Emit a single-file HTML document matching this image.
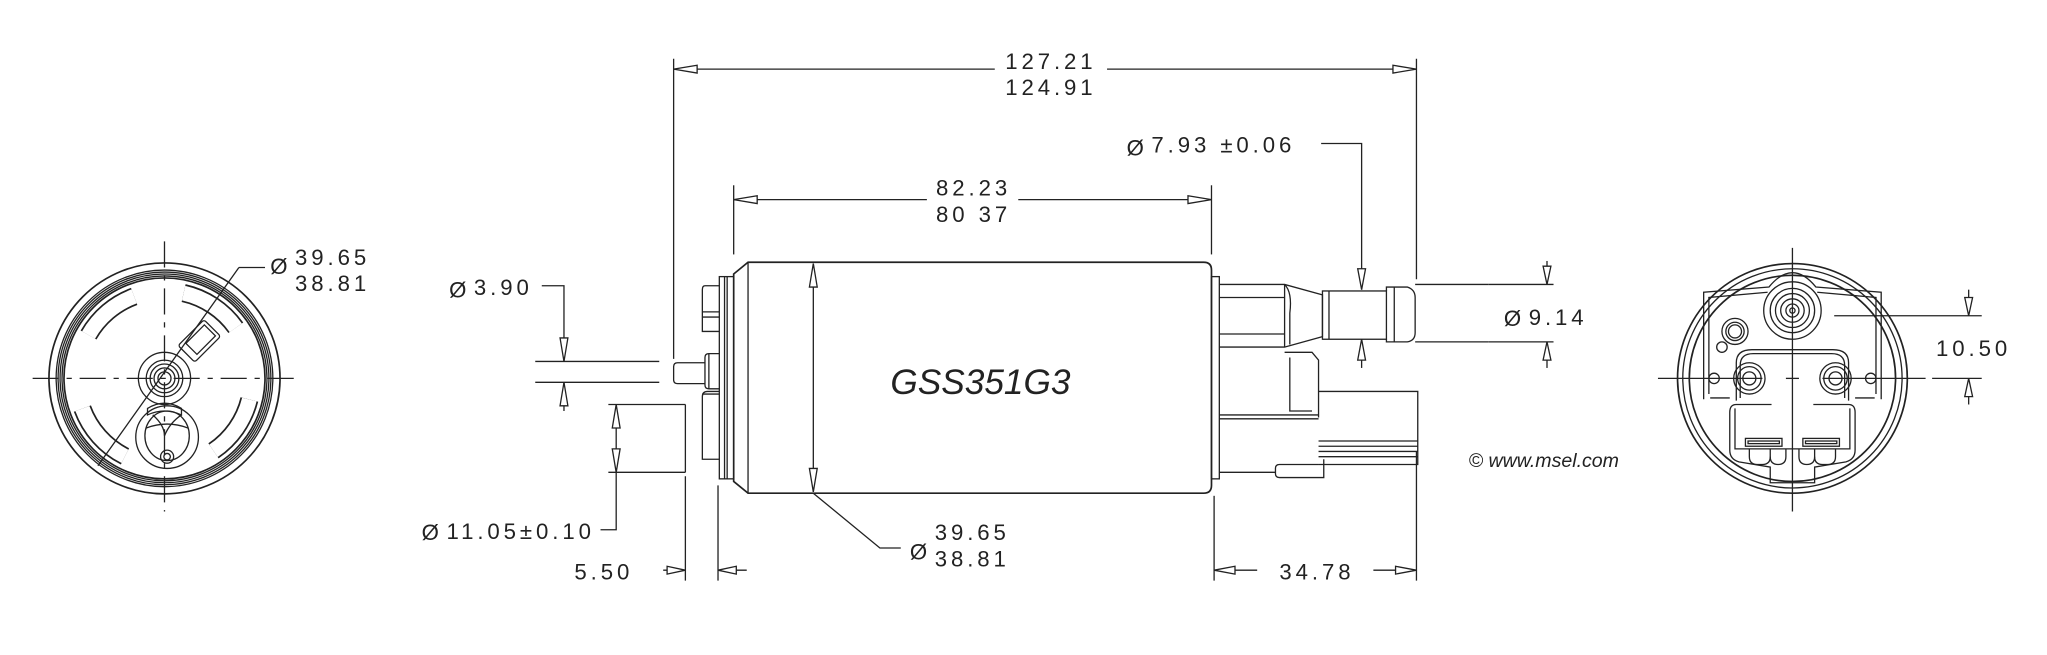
<!DOCTYPE html>
<html><head><meta charset="utf-8"><style>
html,body{margin:0;padding:0;background:#fff;}
svg{display:block;}
text{font-family:"Liberation Sans",sans-serif;fill:#222;}
.d{font-size:17px;letter-spacing:3px;font-weight:normal;}
</style></head><body>
<svg width="2047" height="655" viewBox="0 0 1568 502" preserveAspectRatio="none" xmlns="http://www.w3.org/2000/svg">
<g fill="none" stroke="#222" stroke-width="1">

<!-- ===== LEFT VIEW ===== -->
<g>
<line x1="25" y1="290" x2="228" y2="290" stroke-dasharray="20,6,4,6"/>
<line x1="126" y1="185" x2="126" y2="392" stroke-dasharray="20,6,4,6"/>
<circle cx="126" cy="290" r="88.5" stroke-width="1.3"/>
<circle cx="126" cy="290" r="83"/>
<circle cx="126" cy="290" r="81.5"/>
<circle cx="126" cy="290" r="80"/>
<circle cx="126" cy="290" r="78.5"/>
<circle cx="126" cy="290" r="77" stroke-width="1.3"/>
<!-- arc slots -->
<circle cx="126" cy="290" r="67" stroke-width="14" stroke-dasharray="42,61,43,50,40,33,42,49" stroke-dashoffset="-14" pathLength="360"/>
<circle cx="126" cy="290" r="67" stroke="#fff" stroke-width="11.4" stroke-dasharray="42,61,43,50,40,33,42,49" stroke-dashoffset="-14" pathLength="360"/>
<rect x="-13" y="-9" width="28" height="18" rx="2" transform="translate(152,262) rotate(-45)" fill="#fff"/>
<rect x="-9" y="-6" width="20" height="12" transform="translate(153,261) rotate(-45)"/>
<!-- hub -->
<circle cx="126" cy="290" r="20"/>
<circle cx="126" cy="290" r="14"/>
<circle cx="126" cy="290" r="11"/>
<circle cx="126" cy="290" r="8"/>
<circle cx="126" cy="290" r="5"/>
<path d="M113 313 Q126 305 139 313 L139 318 Q126 312 113 318 Z"/>
<circle cx="128" cy="335" r="24"/>
<ellipse cx="128" cy="334" rx="17" ry="19"/>
<path d="M112 328 Q128 322 144 328"/>
<path d="M117 318 Q126 326 126 334 Q130 324 139 318"/>
<circle cx="128" cy="350" r="5"/>
<circle cx="128" cy="350" r="2.5"/>
<line x1="75" y1="357" x2="183" y2="205"/>
<line x1="183" y1="205" x2="203" y2="205"/>
</g>

<!-- ===== MIDDLE ===== -->
<line x1="516" y1="45" x2="516" y2="275"/>
<line x1="1085" y1="45" x2="1085" y2="214"/>
<line x1="516" y1="53" x2="762" y2="53"/>
<line x1="848" y1="53" x2="1085" y2="53"/>
<polygon points="516,53 534,50 534,56" fill="#fff"/>
<polygon points="1085,53 1067,50 1067,56" fill="#fff"/>
<line x1="562" y1="142" x2="562" y2="195"/>
<line x1="928" y1="142" x2="928" y2="195"/>
<line x1="562" y1="153" x2="710" y2="153"/>
<line x1="780" y1="153" x2="928" y2="153"/>
<polygon points="562,153 580,150 580,156" fill="#fff"/>
<polygon points="928,153 910,150 910,156" fill="#fff"/>

<path d="M562 210 L573 201 L922 201 Q928 201 928 207 L928 372 Q928 378 922 378 L573 378 L562 369 Z" stroke-width="1.3"/>
<line x1="573" y1="201" x2="573" y2="378"/>
<rect x="551" y="212" width="11" height="155"/>
<line x1="555" y1="212" x2="555" y2="367"/>
<line x1="557" y1="212" x2="557" y2="367"/>
<path d="M551 219 L540 219 Q538 219 538 222 L538 254 L551 254"/>
<line x1="538" y1="239" x2="551" y2="239"/>
<line x1="538" y1="243" x2="551" y2="243"/>
<path d="M551 271 L543 271 Q540 271 540 274 L540 295 Q540 298 543 298 L551 298"/>
<line x1="543" y1="271" x2="543" y2="298"/>
<path d="M540 278 L519 278 Q516 278 516 281 L516 291 Q516 294 519 294 L540 294"/>
<path d="M551 300 L542 300 Q538 300 538 304 L538 352 L551 352"/>
<line x1="538" y1="302" x2="551" y2="302"/>
<line x1="623" y1="202" x2="623" y2="377"/>
<polygon points="623,202 620,220 626,220" fill="#fff"/>
<polygon points="623,377 620,359 626,359" fill="#fff"/>
<polyline points="623,378 674,420 690,420"/>

<rect x="928" y="212" width="6" height="155"/>
<path d="M934 218 L984 218 L1013 226 L1013 258 L984 266 L934 266"/>
<line x1="934" y1="228" x2="984" y2="228"/>
<line x1="934" y1="256" x2="984" y2="256"/>
<line x1="984" y1="218" x2="984" y2="266"/>
<path d="M984 218 Q990 224 988 240 L988 264"/>
<rect x="1013" y="223" width="49" height="37"/>
<line x1="1018" y1="223" x2="1018" y2="260"/>
<path d="M1062 223 L1062 220 L1078 220 Q1084 222 1084 228 L1084 255 Q1084 261 1078 262 L1062 262 L1062 260"/>
<line x1="1068" y1="220" x2="1068" y2="262"/>
<line x1="1084" y1="218" x2="1140" y2="218"/>
<line x1="1084" y1="262" x2="1140" y2="262"/>
<path d="M984 270 L1005 270 L1010 276 L1010 320"/>
<path d="M988 274 L988 315 L1005 315"/>
<line x1="934" y1="318" x2="1010" y2="318"/>
<line x1="934" y1="321" x2="1010" y2="321"/>
<path d="M1010 300 L1086 300 L1086 356 L1010 356"/>
<line x1="1010" y1="338" x2="1086" y2="338"/>
<line x1="1010" y1="342" x2="1086" y2="342"/>
<line x1="1010" y1="346" x2="1086" y2="346"/>
<line x1="1010" y1="350" x2="1086" y2="350"/>
<path d="M1010 356 L980 356 Q977 356 977 359 L977 363 Q977 366 980 366 L1014 366 L1014 352"/>
<line x1="934" y1="362" x2="977" y2="362"/>

<polyline points="415,219 432,219 432,277"/>
<polygon points="432,277 429,259 435,259" fill="#fff"/>
<line x1="410" y1="277" x2="505" y2="277"/>
<line x1="410" y1="293" x2="505" y2="293"/>
<line x1="432" y1="293" x2="432" y2="315"/>
<polygon points="432,293 429,311 435,311" fill="#fff"/>
<line x1="466" y1="310" x2="525" y2="310"/>
<line x1="466" y1="362" x2="525" y2="362"/>
<line x1="525" y1="310" x2="525" y2="362"/>
<polyline points="460,406 472,406 472,310"/>
<polygon points="472,310 469,328 475,328" fill="#fff"/>
<polygon points="472,362 469,344 475,344" fill="#fff"/>
<line x1="525" y1="365" x2="525" y2="445"/>
<line x1="550" y1="372" x2="550" y2="445"/>
<line x1="508" y1="437" x2="525" y2="437"/>
<polygon points="525,437 511,434 511,440" fill="#fff"/>
<line x1="550" y1="437" x2="572" y2="437"/>
<polygon points="550,437 564,434 564,440" fill="#fff"/>
<polyline points="1012,110 1043,110 1043,222"/>
<polygon points="1043,222 1040,206 1046,206" fill="#fff"/>
<line x1="1043" y1="260" x2="1043" y2="282"/>
<polygon points="1043,260 1040,276 1046,276" fill="#fff"/>
<line x1="1185" y1="200" x2="1185" y2="218"/>
<polygon points="1185,218 1182,204 1188,204" fill="#fff"/>
<line x1="1185" y1="262" x2="1185" y2="282"/>
<polygon points="1185,262 1182,276 1188,276" fill="#fff"/>
<line x1="1140" y1="218" x2="1190" y2="218"/>
<line x1="1140" y1="262" x2="1190" y2="262"/>
<line x1="930" y1="380" x2="930" y2="445"/>
<line x1="1085" y1="346" x2="1085" y2="445"/>
<line x1="930" y1="437" x2="963" y2="437"/>
<line x1="1052" y1="437" x2="1085" y2="437"/>
<polygon points="930,437 946,434 946,440" fill="#fff"/>
<polygon points="1085,437 1069,434 1069,440" fill="#fff"/>

<!-- ===== RIGHT VIEW ===== -->
<line x1="1270" y1="290" x2="1350" y2="290"/>
<line x1="1396" y1="290" x2="1475" y2="290"/>
<line x1="1373" y1="190" x2="1373" y2="392"/>
<circle cx="1373" cy="290" r="88" stroke-width="1.3"/>
<circle cx="1373" cy="290" r="84"/>
<circle cx="1373" cy="290" r="79" stroke-width="1.3"/>
<path d="M1305 306 L1305 224 L1355 220 Q1373 198 1391 220 L1441 224 L1441 306" />
<path d="M1309 302 L1309 228 L1354 224"/>
<path d="M1392 224 L1437 228 L1437 302"/>
<circle cx="1373" cy="238" r="22"/>
<circle cx="1373" cy="238" r="17"/>
<circle cx="1373" cy="238" r="13"/>
<circle cx="1373" cy="238" r="9"/>
<circle cx="1373" cy="238" r="5"/>
<circle cx="1373" cy="238" r="2"/>
<circle cx="1329" cy="254" r="10"/>
<circle cx="1329" cy="254" r="7"/>
<circle cx="1329" cy="254" r="5"/>
<circle cx="1319" cy="266" r="4"/>
<path d="M1330 307 L1330 278 Q1330 268 1342 268 L1404 268 Q1416 268 1416 278 L1416 307"/>
<path d="M1333 305 L1333 280 Q1333 271 1343 271 L1403 271 Q1413 271 1413 280 L1413 305"/>
<circle cx="1340" cy="290" r="12"/>
<circle cx="1340" cy="290" r="9"/>
<circle cx="1340" cy="290" r="5"/>
<circle cx="1406" cy="290" r="12"/>
<circle cx="1406" cy="290" r="9"/>
<circle cx="1406" cy="290" r="5"/>
<circle cx="1313" cy="290" r="4"/>
<circle cx="1433" cy="290" r="4"/>
<line x1="1368" y1="290" x2="1378" y2="290"/>
<path d="M1357 310 L1330 310 Q1325 310 1325 316 L1325 345 Q1325 352 1332 354 L1356 358 L1356 370 L1390 370 L1390 358 L1414 354 Q1421 352 1421 345 L1421 316 Q1421 310 1416 310 L1389 310"/>
<path d="M1329 313 L1329 344 L1417 344 L1417 313"/>
<rect x="1337" y="336" width="28" height="6"/>
<rect x="1339" y="338" width="24" height="2"/>
<rect x="1381" y="336" width="28" height="6"/>
<rect x="1383" y="338" width="24" height="2"/>
<path d="M1340 344 L1340 350 Q1340 356 1346 356 L1350 356 Q1356 356 1356 350 L1356 344"/>
<path d="M1356 350 Q1356 356 1362 356 Q1368 356 1368 350 L1368 344"/>
<path d="M1378 344 L1378 350 Q1378 356 1384 356 Q1390 356 1390 350"/>
<path d="M1390 344 L1390 350 Q1390 356 1396 356 L1400 356 Q1406 356 1406 350 L1406 344"/>
<line x1="1310" y1="305" x2="1325" y2="305"/>
<line x1="1421" y1="305" x2="1436" y2="305"/>
<line x1="1405" y1="242" x2="1518" y2="242"/>
<line x1="1480" y1="290" x2="1518" y2="290"/>
<line x1="1508" y1="222" x2="1508" y2="242"/>
<polygon points="1508,242 1505,228 1511,228" fill="#fff"/>
<line x1="1508" y1="290" x2="1508" y2="310"/>
<polygon points="1508,290 1505,304 1511,304" fill="#fff"/>
</g>

<g class="d">
<text x="207" y="210" class="d" font-size="22">Ø</text>
<text x="226" y="203" class="d">39.65</text>
<text x="226" y="223" class="d">38.81</text>
<text x="770" y="53" class="d">127.21</text>
<text x="770" y="73" class="d">124.91</text>
<text x="717" y="150" class="d">82.23</text>
<text x="717" y="170" class="d">80 37</text>
<text x="863" y="119" class="d" font-size="22">Ø</text>
<text x="882" y="117" class="d">7.93 ±0.06</text>
<text x="344" y="228" class="d" font-size="22">Ø</text>
<text x="363" y="226" class="d">3.90</text>
<text x="323" y="414" class="d" font-size="22">Ø</text>
<text x="342" y="413" class="d">11.05±0.10</text>
<text x="440" y="444" class="d">5.50</text>
<text x="697" y="429" class="d" font-size="22">Ø</text>
<text x="716" y="414" class="d">39.65</text>
<text x="716" y="434" class="d">38.81</text>
<text x="980" y="444" class="d">34.78</text>
<text x="1152" y="250" class="d" font-size="22">Ø</text>
<text x="1171" y="249" class="d">9.14</text>
<text x="1483" y="273" class="d">10.50</text>
</g>
<text x="682" y="302" font-size="27" font-style="italic">GSS351G3</text>
<text x="1125" y="358" font-size="15" font-style="italic">© www.msel.com</text>
</svg>
</body></html>
